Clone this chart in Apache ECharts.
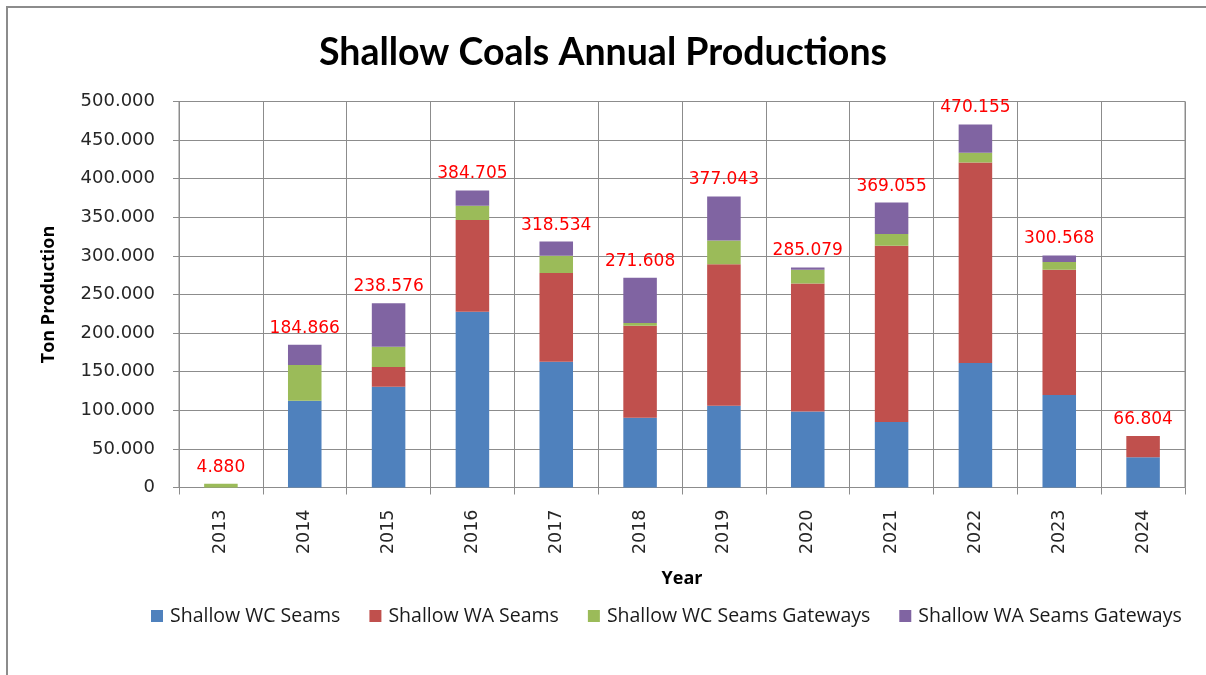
<!DOCTYPE html>
<html>
<head>
<meta charset="utf-8">
<title>Shallow Coals Annual Productions</title>
<script src="https://cdn.jsdelivr.net/npm/echarts@6/dist/echarts.min.js"></script>
<style>
  html, body { margin: 0; padding: 0; background: #ffffff; }
  #chart { width: 1206px; height: 675px; }
</style>
</head>
<body>
<div id="chart"></div>
<script>
// Production per year, in tons
const years = ['2013', '2014', '2015', '2016', '2017', '2018', '2019', '2020', '2021', '2022', '2023', '2024'];
const wcSeams         = [0, 112400, 130500, 227800, 162900,  90300, 105900,  98500,  84700, 161200, 119700, 39300];
const waSeams         = [0,      0,  25500, 118800, 115000, 119300, 183200, 165600, 228600, 259700, 162500, 27504];
const wcSeamsGateways = [4880, 46200, 26400, 18200,  22400,   3500,  30700,  18100,  15100,  12600,   9900,     0];
const waSeamsGateways = [0,  26266,  56176,  19905,  18234,  58508,  57243,   2879,  40655,  36655,   8468,     0];

const seriesNames = ['Shallow WC Seams', 'Shallow WA Seams', 'Shallow WC Seams Gateways', 'Shallow WA Seams Gateways'];
const seriesColors = ['#4F81BD', '#C0504D', '#9BBB59', '#8064A2'];
const seriesValues = [wcSeams, waSeams, wcSeamsGateways, waSeamsGateways];

// Stack totals shown above each column
const totals = years.map((_, i) => seriesValues.reduce((s, arr) => s + arr[i], 0));

// 184866 -> "184.866"
function fmt(v) {
  return String(Math.round(v)).replace(/\B(?=(\d{3})+(?!\d))/g, '.');
}

const gridColor = '#8c8c8c';

const series = seriesValues.map((vals, k) => ({
  name: seriesNames[k],
  type: 'bar',
  stack: 'total',
  barWidth: '40%',
  data: vals,
  itemStyle: { color: seriesColors[k] },
  emphasis: { disabled: true }
}));

// zero-height cap on top of each stack carrying the total label
series.push({
  name: 'Total',
  type: 'bar',
  stack: 'total',
  barWidth: '40%',
  data: years.map(() => 0),
  itemStyle: { color: 'transparent' },
  label: {
    show: true,
    position: 'top',
    distance: 8,
    color: '#FF0000',
    fontFamily: 'DejaVu Sans',
    fontSize: 17,
    formatter: p => fmt(totals[p.dataIndex])
  },
  emphasis: { disabled: true }
});

const chart = echarts.init(document.getElementById('chart'), null, { renderer: 'canvas' });
chart.setOption({
  animation: false,
  backgroundColor: '#ffffff',
  title: {
    text: 'Shallow Coals Annual Productions',
    left: 'center',
    top: 29,
    textStyle: { fontFamily: 'Lato', fontWeight: 'bold', fontSize: 37.5, color: '#000000' }
  },
  legend: {
    data: seriesNames,
    left: 146,
    top: 601,
    icon: 'rect',
    itemWidth: 12,
    itemHeight: 12,
    itemGap: 29,
    textStyle: { fontFamily: 'Open Sans', fontSize: 19.5, color: '#1a1a1a', padding: [0, 0, 0, 2] }
  },
  grid: {
    left: 179,
    right: 21,
    top: 101.5,
    bottom: 187.5,
    show: true,
    borderColor: gridColor,
    borderWidth: 1
  },
  xAxis: {
    type: 'category',
    data: years,
    boundaryGap: true,
    name: 'Year',
    nameLocation: 'middle',
    nameGap: 82,
    nameTextStyle: { fontFamily: 'Open Sans', fontWeight: 'bold', fontSize: 18, color: '#000000' },
    axisLine: { lineStyle: { color: gridColor, width: 1 } },
    axisTick: { show: true, length: 7, lineStyle: { color: gridColor } },
    splitLine: { show: true, lineStyle: { color: gridColor, width: 1 } },
    axisLabel: {
      rotate: 90,
      margin: 22,
      fontFamily: 'DejaVu Sans',
      fontSize: 17.5,
      color: '#262626'
    }
  },
  yAxis: {
    type: 'value',
    min: 0,
    max: 500000,
    interval: 50000,
    name: 'Ton Production',
    nameLocation: 'middle',
    nameGap: 121,
    nameTextStyle: { fontFamily: 'Open Sans', fontWeight: 'bold', fontSize: 18, color: '#000000' },
    axisLine: { show: true, lineStyle: { color: gridColor, width: 1 } },
    axisTick: { show: true, length: 6, lineStyle: { color: gridColor } },
    splitLine: { show: true, lineStyle: { color: gridColor, width: 1 } },
    axisLabel: {
      margin: 24,
      fontFamily: 'DejaVu Sans',
      fontSize: 18,
      color: '#262626',
      formatter: v => fmt(v)
    }
  },
  graphic: [{
    type: 'rect',
    shape: { x: 7, y: 7, width: 1400, height: 900 },
    style: { fill: 'none', stroke: '#8c8c8c', lineWidth: 2 },
    silent: true,
    z: -1
  }],
  series: series
});
</script>
</body>
</html>
